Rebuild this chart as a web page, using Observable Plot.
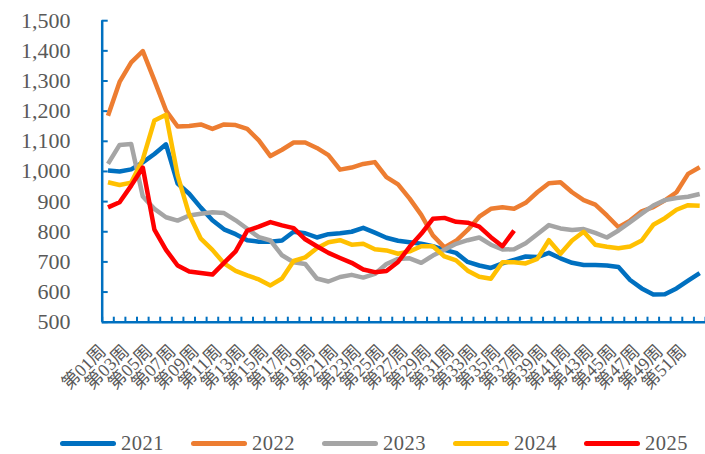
<!DOCTYPE html>
<html>
<head>
<meta charset="utf-8">
<script src="https://cdn.jsdelivr.net/npm/d3@7"></script>
<script src="https://cdn.jsdelivr.net/npm/@observablehq/plot@0.6"></script>
<style>
  html, body { margin: 0; padding: 0; background: #fff; }
  #chart { width: 705px; height: 425px; }
  .legend { position: relative; width: 705px; height: 16px; margin-top: 10px; font-family: "Liberation Serif", "Noto Sans CJK SC", serif; font-size: 20.5px; line-height: 16px; color: #595959; }
  .item { position: absolute; top: 0; height: 16px; display: flex; align-items: center; }
  .swatch { width: 56px; height: 5px; border-radius: 3px; margin-right: 5px; }
  .lbl { display: inline-block; height: 16px; line-height: 16px; overflow: visible; letter-spacing: 0.5px; }
</style>
</head>
<body>
<div id="chart"></div>
<script>
const weeks = ["第01周","第02周","第03周","第04周","第05周","第06周","第07周","第08周","第09周","第10周",
  "第11周","第12周","第13周","第14周","第15周","第16周","第17周","第18周","第19周","第20周",
  "第21周","第22周","第23周","第24周","第25周","第26周","第27周","第28周","第29周","第30周",
  "第31周","第32周","第33周","第34周","第35周","第36周","第37周","第38周","第39周","第40周",
  "第41周","第42周","第43周","第44周","第45周","第46周","第47周","第48周","第49周","第50周",
  "第51周","第52周"];
const years = ["2021", "2022", "2023", "2024", "2025"];
const colors = ["#0070C0", "#ED7D31", "#A5A5A5", "#FFC000", "#FF0000"];
const yTicks = [500, 600, 700, 800, 900, 1000, 1100, 1200, 1300, 1400, 1500];

const y2021 = [1003,1000,1007,1030,1058,1090,960,926,880,838,
  808,792,772,767,767,771,800,795,781,792,
  795,800,813,797,780,770,765,760,752,740,
  730,700,688,680,695,707,718,716,730,712,
  697,690,690,688,683,640,612,592,593,612,
  638,663];
const y2022 = [1185,1297,1362,1399,1302,1202,1149,1151,1156,1141,
  1156,1154,1141,1103,1051,1072,1096,1096,1078,1054,
  1006,1013,1025,1031,981,957,910,856,788,748,
  770,806,850,876,881,876,896,931,961,964,
  931,905,890,854,815,837,868,882,904,931,
  992,1014];
const y2023 = [1025,1088,1091,917,876,848,837,854,860,865,
  862,838,810,782,771,722,699,693,645,635,
  650,657,648,660,693,710,712,697,721,740,
  760,772,781,757,741,742,762,792,822,811,
  806,809,796,781,804,832,860,887,905,912,
  916,925];
const y2024 = [964,955,963,1040,1169,1188,987,857,777,740,
  695,670,655,642,622,645,703,715,745,765,
  772,757,760,742,738,727,735,752,752,718,
  705,671,651,644,699,699,695,710,772,727,
  771,800,757,750,745,751,771,823,845,873,
  888,886];
const y2025 = [881,898,953,1013,807,740,688,668,663,658,
  697,735,804,817,832,821,812,775,752,730,
  713,697,675,666,670,700,750,793,843,846,
  833,830,817,782,752,804];

const series = [y2021, y2022, y2023, y2024, y2025];
const rows = [];
series.forEach((vals, s) => vals.forEach((v, i) => rows.push({week: i + 1, value: v, year: years[s]})));

const weekNums = weeks.map((_, i) => i + 1);
const oddWeeks = weekNums.filter(w => w % 2 === 1);
const bounds = [0.5, ...weekNums.map(w => w + 0.5)];

const axisColor = "#0070C0";
const textColor = "#595959";

const plot = Plot.plot({
  width: 705,
  height: 425,
  marginLeft: 101.7,
  marginRight: 0,
  marginTop: 20.2,
  marginBottom: 103.3,
  style: {fontFamily: "'Liberation Serif', 'Noto Sans CJK SC', serif", background: "#fff"},
  x: {type: "linear", domain: [0.5, 52.5], axis: null},
  y: {domain: [500, 1500], axis: null},
  color: {domain: years, range: colors},
  marks: [
    Plot.axisY({ticks: yTicks, tickSize: 0, tickPadding: 31.7, tickFormat: d3.format(","), fontSize: 22, color: textColor, label: null}),
    Plot.axisY({ticks: yTicks, tickSize: -6, tickFormat: () => "", stroke: axisColor, strokeWidth: 2, label: null}),
    Plot.axisX({ticks: bounds, tickSize: -5, tickFormat: () => "", stroke: axisColor, strokeWidth: 2, label: null}),
    Plot.ruleX([0.5], {y1: 500, y2: 1500, stroke: axisColor, strokeWidth: 2.5}),
    Plot.ruleY([500], {x1: 0.5, x2: 52.5, stroke: axisColor, strokeWidth: 2.5}),
    Plot.text(oddWeeks, {x: d => d, text: d => weeks[d - 1], frameAnchor: "bottom", rotate: -45,
      textAnchor: "end", lineAnchor: "middle", dx: -5, dy: 26, fontSize: 18, fill: textColor}),
    Plot.line(rows, {x: "week", y: "value", z: "year", stroke: "year", strokeWidth: 4.5,
      strokeLinejoin: "round", strokeLinecap: "butt"})
  ]
});
document.getElementById("chart").appendChild(plot);

const legend = document.createElement("div");
legend.className = "legend";
years.forEach((y, i) => {
  const item = document.createElement("div");
  item.className = "item";
  item.style.left = (60 + i * 131) + "px";
  const sw = document.createElement("span");
  sw.className = "swatch";
  sw.style.background = colors[i];
  const t = document.createElement("span");
  t.className = "lbl";
  t.textContent = y;
  item.appendChild(sw);
  item.appendChild(t);
  legend.appendChild(item);
});
document.body.appendChild(legend);
</script>
</body>
</html>
